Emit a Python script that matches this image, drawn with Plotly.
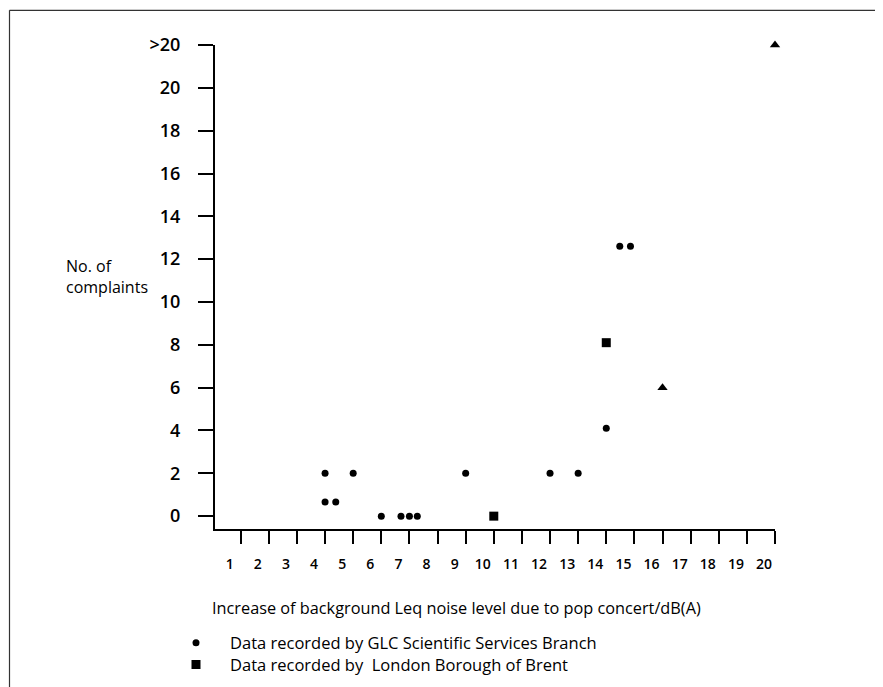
import plotly.graph_objects as go

# Data (x = increase of background Leq, dB(A); y = number of complaints; 22 means ">20")
glc_x = [4.0, 4.0, 4.38, 5.0, 6.0, 6.7, 7.0, 7.28, 9.0, 12.0, 13.0, 14.0, 14.48, 14.86]
glc_y = [2.0, 0.66, 0.66, 2.0, 0.0, 0.0, 0.0, 0.0, 2.0, 2.0, 2.0, 4.1, 12.6, 12.6]
brent_x = [10.0, 14.0]
brent_y = [0.0, 8.1]
other_x = [16.0, 20.0]
other_y = [6.0, 22.0]

x_ticks = list(range(1, 21))
y_ticks = [0, 2, 4, 6, 8, 10, 12, 14, 16, 18, 20, 22]
y_ticktext = ["0", "2", "4", "6", "8", "10", "12", "14", "16", "18", "20", ">20"]

FONT = "Open Sans"
L, R, T, B = 207, 116, 37, 162
PW, PH = 883 - L - R, 687 - T - B


def px(xp):
    return (xp - L) / PW


def py(yp):
    return (687 - B - yp) / PH


fig = go.Figure()
fig.add_trace(go.Scatter(x=glc_x, y=glc_y, mode="markers",
                         marker=dict(symbol="circle", size=7, color="black"),
                         name="Data recorded by GLC Scientific Services Branch",
                         legend="legend", cliponaxis=False))
fig.add_trace(go.Scatter(x=brent_x, y=brent_y, mode="markers",
                         marker=dict(symbol="square", size=9, color="black"),
                         name="Data recorded by  London Borough of Brent",
                         legend="legend2", cliponaxis=False))
fig.add_trace(go.Scatter(x=other_x, y=other_y, mode="markers",
                         marker=dict(symbol="triangle-up", size=9, color="black"),
                         showlegend=False, cliponaxis=False))

leg_common = dict(xanchor="left", yanchor="middle",
                  font=dict(size=16.5, family=FONT), itemwidth=58,
                  bgcolor="rgba(0,0,0,0)")

fig.update_layout(
    width=883, height=687,
    margin=dict(l=L, r=R, t=T, b=B),
    paper_bgcolor="white", plot_bgcolor="white",
    font=dict(family=FONT, color="black"),
    xaxis=dict(range=[0.086, 20.0], tickvals=x_ticks, ticks="outside", ticklen=13,
               tickwidth=2, tickcolor="black", showline=True, linewidth=2,
               linecolor="black", showgrid=False, zeroline=False,
               tickfont=dict(size=14, family=FONT, weight=600), ticklabelshift=-11,
               ticklabelstandoff=8),
    yaxis=dict(range=[-0.6, 22.0], tickvals=y_ticks, ticktext=y_ticktext,
               ticks="outside", ticklen=15, tickwidth=2, tickcolor="black",
               showline=True, linewidth=2, linecolor="black", showgrid=False,
               zeroline=False, tickfont=dict(size=18, family=FONT, weight=600),
               ticklabelstandoff=14),
    legend=dict(x=px(154), y=py(640), **leg_common),
    legend2=dict(x=px(154), y=py(662), **leg_common),
    showlegend=True,
)

fig.add_annotation(text="Increase of background Leq noise level due to pop concert/dB(A)",
                   xref="paper", yref="paper", x=px(448), y=py(605),
                   xanchor="center", yanchor="middle", showarrow=False,
                   font=dict(size=16.3, family=FONT))
fig.add_annotation(text="No. of<br>complaints", xref="paper", yref="paper",
                   x=px(56), y=py(270), xanchor="left",
                   yanchor="middle", align="left", showarrow=False,
                   font=dict(size=16, family=FONT))

# scan page frame (top and left edges)
fig.add_shape(type="line", xref="paper", yref="paper",
              x0=px(1.5), x1=px(883), y0=py(2), y1=py(2),
              line=dict(color="#333", width=1.2))
fig.add_shape(type="line", xref="paper", yref="paper",
              x0=px(1.5), x1=px(1.5), y0=py(2), y1=py(687),
              line=dict(color="#333", width=1.2))

fig.write_html("out.html")
